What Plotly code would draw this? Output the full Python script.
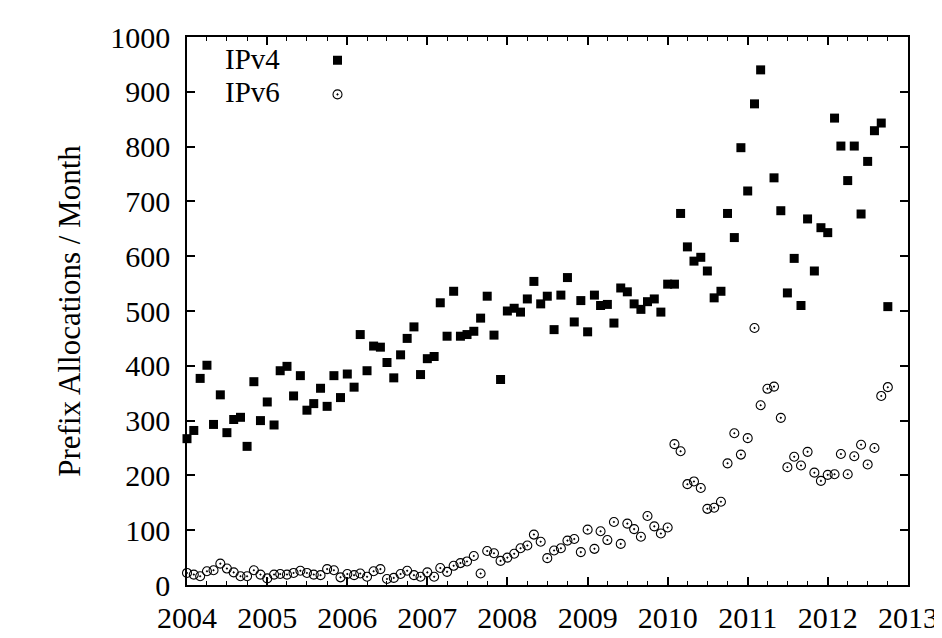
import pandas as pd
import plotly.graph_objects as go

# Monthly prefix allocations, Jan 2004 .. Oct 2012
months = pd.date_range("2004-01-01", periods=106, freq="MS")

ipv4 = [267, 282, 377, 401, 293, 347, 278, 302, 306, 253, 371, 300,
        334, 292, 391, 399, 345, 382, 319, 331, 359, 326, 382, 342,
        385, 361, 457, 391, 436, 434, 406, 378, 420, 450, 471, 384,
        413, 417, 515, 454, 536, 454, 457, 463, 487, 527, 456, 375,
        500, 505, 498, 522, 554, 513, 527, 466, 529, 561, 480, 519,
        462, 529, 510, 512, 478, 542, 535, 513, 503, 517, 522, 498,
        549, 549, 678, 617, 591, 598, 573, 524, 536, 678, 634, 798,
        719, 878, 940, None, 743, 683, 533, 596, 510, 668, 573, 652,
        643, 852, 801, 738, 801, 677, 773, 829, 843, 508]

ipv6 = [22, 19, 16, 25, 27, 39, 30, 23, 16, 16, 27, 19,
        12, 19, 20, 19, 22, 26, 22, 19, 18, 29, 27, 14,
        20, 18, 21, 15, 25, 29, 11, 13, 20, 26, 18, 15,
        23, 15, 31, 24, 35, 40, 43, 53, 21, 62, 58, 44,
        50, 57, 67, 72, 92, 79, 49, 63, 67, 81, 84, 60,
        101, 66, 98, 82, 115, 75, 112, 102, 88, 126, 107, 94,
        105, 257, 244, 184, 189, 177, 139, 141, 152, 222, 277, 238,
        268, 469, 328, 358, 362, 305, 215, 234, 218, 243, 205, 190,
        201, 202, 239, 202, 235, 256, 220, 250, 345, 361]

series_names = ["IPv4", "IPv6"]

FONT = "Liberation Serif, Times New Roman, serif"

fig = go.Figure()
fig.add_trace(go.Scatter(
    x=months, y=ipv4, mode="markers", name=series_names[0], showlegend=False,
    marker=dict(symbol="square", size=9, color="black", line=dict(width=0)),
    cliponaxis=False))
fig.add_trace(go.Scatter(
    x=months, y=ipv6, mode="markers", name=series_names[1], showlegend=False,
    marker=dict(symbol="circle-open-dot", size=9, color="black",
                line=dict(width=1.1, color="black")),
    cliponaxis=False))

# legend key symbols (text is drawn to their left as annotations)
fig.add_trace(go.Scatter(
    x=[None], y=[None], mode="markers", name="", showlegend=True,
    marker=dict(symbol="square", size=9, color="black", line=dict(width=0))))
fig.add_trace(go.Scatter(
    x=[None], y=[None], mode="markers", name="", showlegend=True,
    marker=dict(symbol="circle-open-dot", size=9, color="black",
                line=dict(width=1.1, color="black"))))

for name, yy in zip(series_names, [0.96, 0.9]):
    fig.add_annotation(text=name, xref="paper", yref="paper", x=0.132, y=yy,
                       xanchor="right", yanchor="middle", showarrow=False,
                       font=dict(family=FONT, size=29, color="black"))

fig.update_layout(
    width=942, height=638,
    margin=dict(l=179, r=36, t=20, b=48),
    paper_bgcolor="white", plot_bgcolor="white",
    font=dict(family=FONT, size=30, color="black"),
    legend=dict(x=0.181, y=0.998, xanchor="left", yanchor="top",
                bgcolor="rgba(0,0,0,0)", font=dict(size=24),
                tracegroupgap=0, itemwidth=30),
)

fig.update_xaxes(
    type="date", range=["2004-01-01", "2013-01-01"],
    dtick="M12", tick0="2004-01-01", tickformat="%Y",
    ticks="inside", ticklen=8, tickwidth=1.5, tickcolor="black",
    showline=True, linewidth=1.5, linecolor="black", mirror="ticks",
    showgrid=False, zeroline=False, ticklabelstandoff=5,
    minor=dict(dtick="M3", tick0="2004-01-01", ticks="inside", ticklen=4,
               tickwidth=1.2, tickcolor="black", showgrid=False),
)
fig.update_yaxes(
    range=[0, 1000], dtick=100,
    ticks="inside", ticklen=8, tickwidth=1.5, tickcolor="black",
    showline=True, linewidth=1.5, linecolor="black", mirror="ticks",
    showgrid=False, zeroline=False, ticklabelstandoff=9,
    title=dict(text="Prefix Allocations / Month", standoff=20,
               font=dict(family=FONT, size=31)),
)

fig.write_html("out.html")
